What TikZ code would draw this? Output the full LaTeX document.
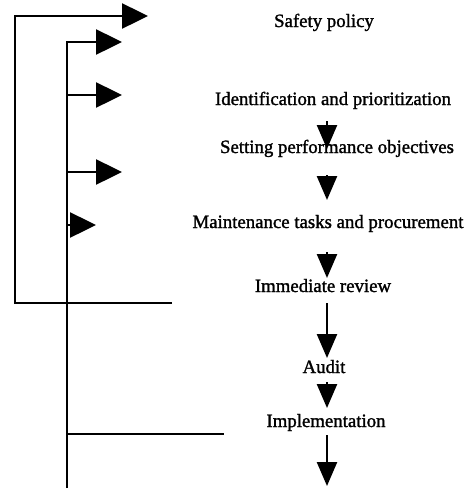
\documentclass[tikz,border=0pt]{standalone}
\usepackage{fontspec}
\setmainfont{Liberation Serif}
\newfontfamily\stagefont{Liberation Serif}[FakeBold=1.4]
\usepackage{tikz}
\usetikzlibrary{arrows.meta}
\tikzset{
    x=1pt,
    y=-1pt,
    stage/.style = {
        anchor=base,
        inner sep=0pt,
        font=\stagefont\fontsize{18.8}{22}\selectfont
    },
    wire/.style = {
        line width=2.5pt
    },
    feed/.style = {
        wire,
        -{Triangle[length=26pt, width=25pt]}
    },
    flowarrow/.style = {
        wire,
        -{Triangle[length=24pt, width=20pt]}
    },
}
\begin{document}
\begin{tikzpicture}
    \useasboundingbox (0,0) rectangle (469,491);

    \node[stage] (policy) at (324,27) {Safety policy};
    \node[stage] (ident) at (333,105) {Identification and prioritization};
    \node[stage] (objectives) at (337,153) {Setting performance objectives};
    \node[stage] (tasks) at (328,228) {Maintenance tasks and procurement};
    \node[stage] (review) at (323,292) {Immediate review};
    \node[stage] (audit) at (324,373) {Audit};
    \node[stage] (impl) at (326,427) {Implementation};

    \coordinate (flow) at (327,0);
    \coordinate (outerBL) at (15,303);
    \coordinate (outerBR) at (172,303);
    \coordinate (outerTip) at (148,16);
    \coordinate (innerT) at (67,42);
    \coordinate (innerB) at (67,488);
    \coordinate (innerTip) at (122,42);
    \coordinate (lowBR) at (224,434);

    % feedback loops on the left
    \path[draw, feed] (outerBR) -- (outerBL) |- (outerTip);
    \path[draw, feed] (innerB) -- (innerT) -- (innerTip);
    \path[draw, feed] (67,95) -- (122,95);
    \path[draw, feed] (67,172) -- (122,172);
    \path[draw, feed] (67,225) -- (96,225);
    \path[draw, wire] (innerT |- lowBR) -- (lowBR);

    % main sequence
    \path[draw, flowarrow] (ident.base -| flow) ++(0,16) -- ++(0,28);
    \path[draw, flowarrow] (objectives.base -| flow) ++(0,22) -- ++(0,25);
    \path[draw, flowarrow] (tasks.base -| flow) ++(0,24) -- ++(0,26);
    \path[draw, flowarrow] (review.base -| flow) ++(0,11) -- ++(0,55);
    \path[draw, flowarrow] (audit.base -| flow) ++(0,9) -- ++(0,26);
    \path[draw, flowarrow] (impl.base -| flow) ++(0,8) -- ++(0,51);
\end{tikzpicture}
\end{document}
